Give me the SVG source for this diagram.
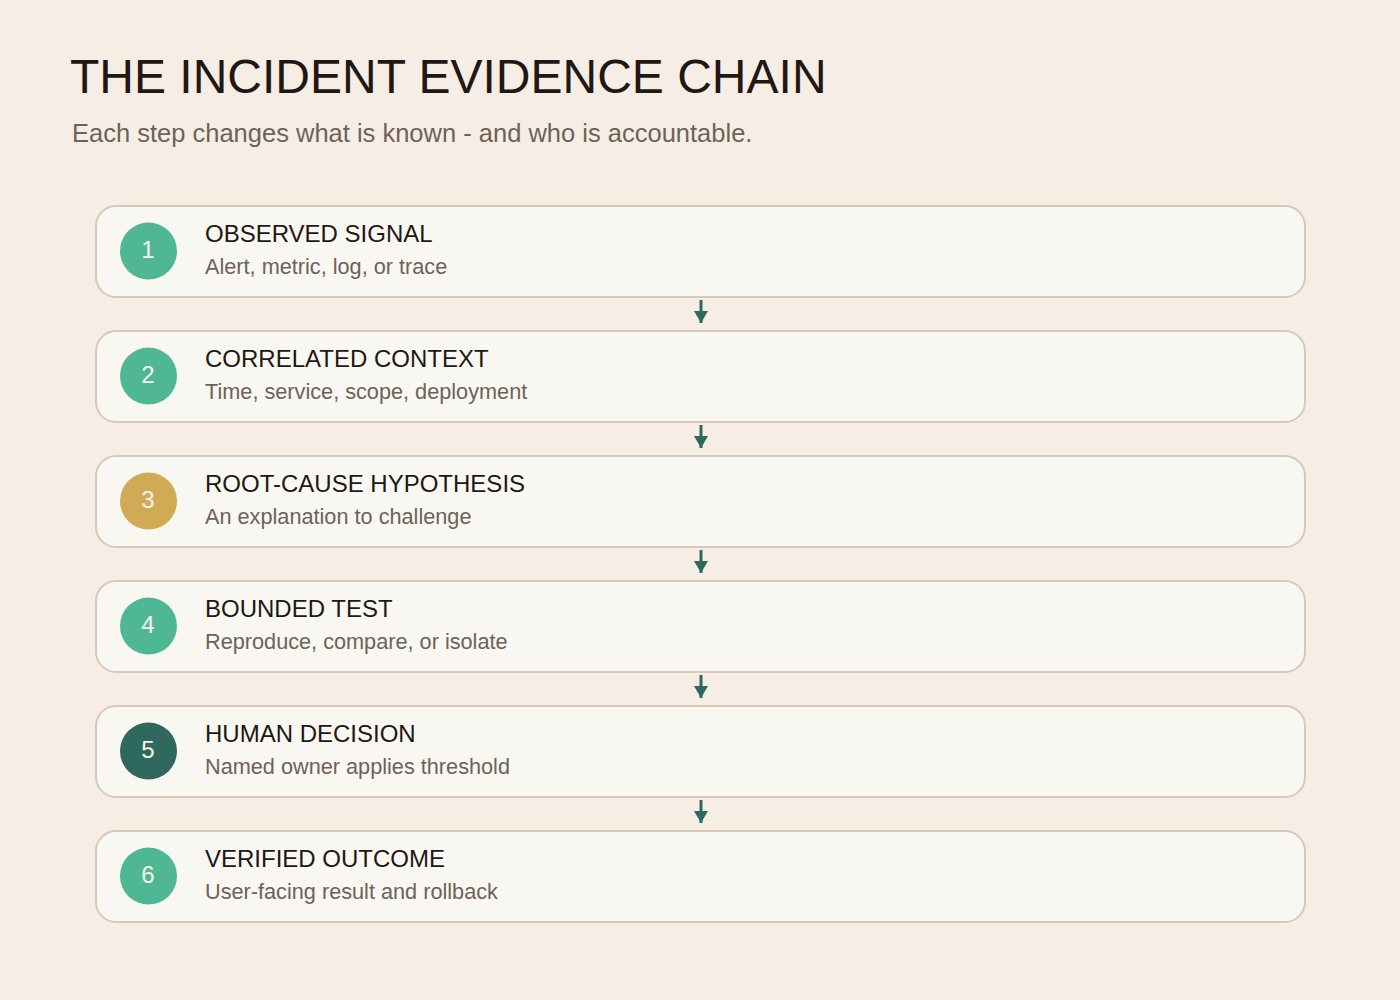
<svg xmlns="http://www.w3.org/2000/svg" width="1400" height="1000" viewBox="0 0 1400 1000">
<defs>
<style>
.bg{fill:#f6eee5}
.card{fill:#f9f7f2;stroke:#d6cab7;stroke-width:2}
.num{font-family:"Liberation Sans",Arial,sans-serif;font-size:24px;fill:#f8f4ec;text-anchor:middle}
.t{font-family:"Liberation Sans",Arial,sans-serif;font-size:24px;fill:#221813}
.s{font-family:"Liberation Sans",Arial,sans-serif;font-size:21.7px;fill:#6e6258}
.teal{fill:#50b795}
.gold{fill:#d0aa55}
.dark{fill:#2f685c}
.conn line{stroke:#2f685c;stroke-width:3}
</style>
<marker id="ah" markerWidth="12" markerHeight="14" refX="12" refY="7" markerUnits="userSpaceOnUse" orient="auto" viewBox="0 0 12 14">
<path d="M0,0 L12,7 L0,14 Z" fill="#2f685c"/>
</marker>
</defs>
<rect class="bg" x="0" y="0" width="1400" height="1000"/>
<text x="70" y="93" font-family="'Liberation Sans',Arial,sans-serif" font-size="48" fill="#221813">THE INCIDENT EVIDENCE CHAIN</text>
<text x="72" y="142" font-family="'Liberation Sans',Arial,sans-serif" font-size="25.5" fill="#6e6258">Each step changes what is known - and who is accountable.</text>

<g id="connectors" class="conn">
<line x1="701" y1="300" x2="701" y2="323" marker-end="url(#ah)"/>
<line x1="701" y1="425" x2="701" y2="448" marker-end="url(#ah)"/>
<line x1="701" y1="550" x2="701" y2="573" marker-end="url(#ah)"/>
<line x1="701" y1="675" x2="701" y2="698" marker-end="url(#ah)"/>
<line x1="701" y1="800" x2="701" y2="823" marker-end="url(#ah)"/>
</g>

<g id="node1">
<rect class="card" x="96" y="206" width="1209" height="91" rx="20"/>
<circle class="teal" cx="148.5" cy="251" r="28.5"/>
<text class="num" x="148" y="258">1</text>
<text class="t" x="205" y="242">OBSERVED SIGNAL</text>
<text class="s" x="205" y="274">Alert, metric, log, or trace</text>
</g>
<g id="node2">
<rect class="card" x="96" y="331" width="1209" height="91" rx="20"/>
<circle class="teal" cx="148.5" cy="376" r="28.5"/>
<text class="num" x="148" y="383">2</text>
<text class="t" x="205" y="367">CORRELATED CONTEXT</text>
<text class="s" x="205" y="399">Time, service, scope, deployment</text>
</g>
<g id="node3">
<rect class="card" x="96" y="456" width="1209" height="91" rx="20"/>
<circle class="gold" cx="148.5" cy="501" r="28.5"/>
<text class="num" x="148" y="508">3</text>
<text class="t" x="205" y="492">ROOT-CAUSE HYPOTHESIS</text>
<text class="s" x="205" y="524">An explanation to challenge</text>
</g>
<g id="node4">
<rect class="card" x="96" y="581" width="1209" height="91" rx="20"/>
<circle class="teal" cx="148.5" cy="626" r="28.5"/>
<text class="num" x="148" y="633">4</text>
<text class="t" x="205" y="617">BOUNDED TEST</text>
<text class="s" x="205" y="649">Reproduce, compare, or isolate</text>
</g>
<g id="node5">
<rect class="card" x="96" y="706" width="1209" height="91" rx="20"/>
<circle class="dark" cx="148.5" cy="751" r="28.5"/>
<text class="num" x="148" y="758">5</text>
<text class="t" x="205" y="742">HUMAN DECISION</text>
<text class="s" x="205" y="774">Named owner applies threshold</text>
</g>
<g id="node6">
<rect class="card" x="96" y="831" width="1209" height="91" rx="20"/>
<circle class="teal" cx="148.5" cy="876" r="28.5"/>
<text class="num" x="148" y="883">6</text>
<text class="t" x="205" y="867">VERIFIED OUTCOME</text>
<text class="s" x="205" y="899">User-facing result and rollback</text>
</g>
</svg>
